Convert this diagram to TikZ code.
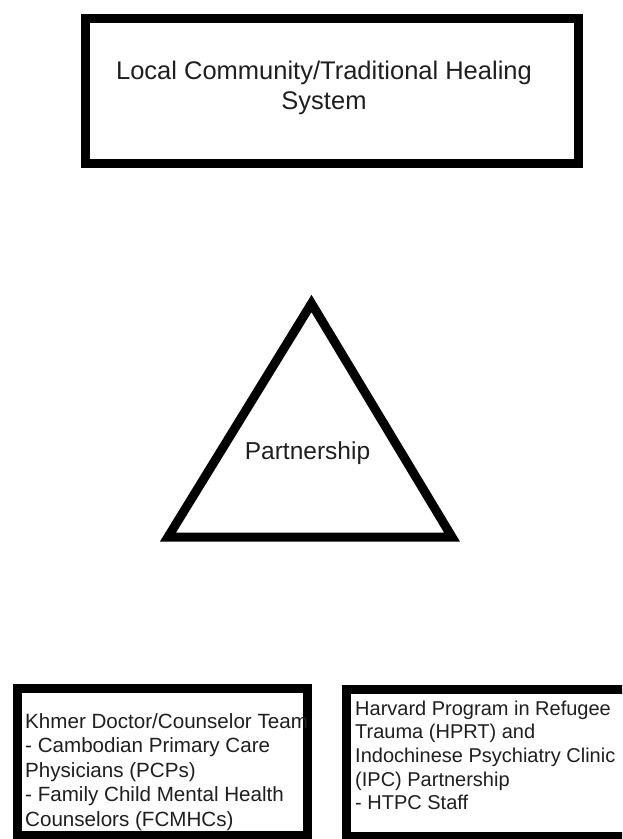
\documentclass[tikz,border=0pt]{standalone}
\usepackage{fontspec}
\setmainfont{Liberation Sans}
\usepackage{tikz}
\usetikzlibrary{positioning}
\tikzset{
  box/.style   ={rectangle, draw=black, line width=9pt, inner sep=0pt},
  txt/.style   ={inner sep=0pt, text=black!88},
  toptxt/.style={txt, align=center, font=\fontsize{25.5}{30}\selectfont},
  bottxt/.style={txt, anchor=north west, align=left, font=\fontsize{20.6}{24.5}\selectfont},
  tri/.style   ={draw=black, line width=9pt, line join=miter},
}

\begin{document}
\begin{tikzpicture}[x=1pt, y=-1pt]
\clip (0,0) rectangle (622,839);
\fill[white] (0,0) rectangle (622,839);
% top box
\node[box, minimum width=493pt, minimum height=145pt] (heal) at (332,91) {};
\node[toptxt] (healt) at (324,88.4) {Local Community/Traditional Healing\\System};
% triangle
\coordinate (tA) at (311.5,303.5);
\coordinate (tB) at (168,537);
\coordinate (tC) at (452,537);
\draw[tri] (tA) -- (tB) -- (tC) -- cycle;
\node[txt, font=\fontsize{24.5}{29}\selectfont] (part) at (307.5,453.5) {Partnership};
% bottom boxes
\node[box, minimum width=290.5pt, minimum height=146.5pt] (khm) at (162.25,761.75) {};
\node[bottxt] (khmt) at (25,713) {Khmer Doctor/Counselor Team\\- Cambodian Primary Care\\Physicians (PCPs)\\- Family Child Mental Health\\Counselors (FCMHCs)};
\node[box, minimum width=293.5pt, minimum height=147pt] (hprt) at (493.25,762.5) {};
\node[bottxt, font=\fontsize{20}{23.7}\selectfont] (hprtt) at (355,700.4) {Harvard Program in Refugee\\Trauma (HPRT) and\\Indochinese Psychiatry Clinic\\(IPC) Partnership\\- HTPC Staff};
\end{tikzpicture}
\end{document}
